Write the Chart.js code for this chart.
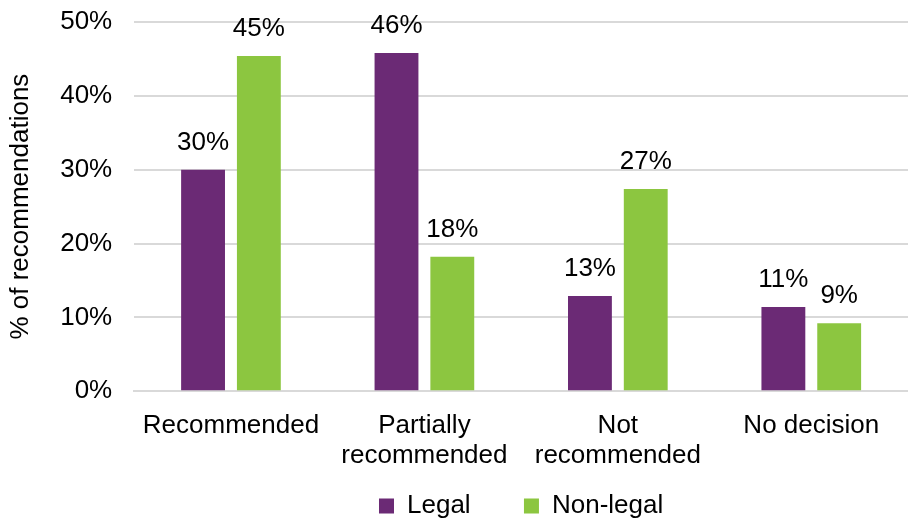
<!DOCTYPE html>
<html>
<head>
<meta charset="utf-8">
<script src="https://cdn.jsdelivr.net/npm/chart.js@4"></script>
<style>
  body { margin: 0; background: #fff; }
  #wrap { width: 908px; height: 520px; }
</style>
</head>
<body>
<div id="wrap"><canvas id="chart"></canvas></div>
<script>
const categories = [["Recommended"], ["Partially", "recommended"], ["Not", "recommended"], ["No decision"]];
const legalValues = [30.0, 45.8, 12.9, 11.4];
const nonLegalValues = [45.4, 18.2, 27.4, 9.2];
const yTicks = [0, 10, 20, 30, 40, 50];

const purple = "#6b2a75";
const green = "#8cc640";
const font = "'Liberation Sans', Arial, sans-serif";
const fontSize = 26;

// draw the value labels above each bar
const barLabels = {
  id: "barLabels",
  afterDatasetsDraw(chart) {
    const c = chart.ctx;
    c.save();
    c.font = fontSize + "px " + font;
    c.fillStyle = "#000";
    c.textAlign = "center";
    c.textBaseline = "middle";
    chart.data.datasets.forEach((ds, i) => {
      chart.getDatasetMeta(i).data.forEach((bar, j) => {
        c.fillText(Math.round(ds.data[j]) + "%", bar.x, bar.y - 27);
      });
    });
    c.restore();
  }
};

new Chart(document.getElementById("chart"), {
  type: "bar",
  data: {
    labels: categories,
    datasets: [
      { label: "Legal", data: legalValues, backgroundColor: purple },
      { label: "Non-legal", data: nonLegalValues, backgroundColor: green }
    ]
  },
  options: {
    responsive: true,
    maintainAspectRatio: false,
    animation: false,
    categoryPercentage: 0.577,
    barPercentage: 0.786,
    layout: { padding: { top: 22, right: 0, left: 5, bottom: -9 } },
    plugins: {
      legend: {
        position: "bottom",
        fullSize: false,
        labels: {
          font: { family: font, size: fontSize },
          color: "#000",
          boxWidth: 15,
          boxHeight: 15,
          padding: 10,
          // widen the gap between the two entries without a tall legend
          generateLabels(chart) {
            const items = Chart.defaults.plugins.legend.labels.generateLabels(chart);
            items[0].text = items[0].text + "      ";
            return items;
          }
        }
      },
      tooltip: { enabled: false }
    },
    scales: {
      x: {
        grid: { display: false },
        border: { color: "#d9d9d9", width: 2 },
        ticks: { font: { family: font, size: fontSize, lineHeight: 1.15 }, color: "#000", maxRotation: 0, padding: 12 }
      },
      y: {
        min: 0,
        max: 50,
        afterBuildTicks(axis) { axis.ticks = yTicks.map(v => ({ value: v })); },
        afterFit(axis) { axis.paddingTop = 0; },
        grid: { color: "#d9d9d9", lineWidth: 2, drawTicks: false },
        border: { display: false },
        ticks: {
          font: { family: font, size: fontSize },
          color: "#000",
          padding: 22,
          callback: v => v + "%"
        },
        title: {
          display: true,
          text: "% of recommendations",
          font: { family: font, size: fontSize },
          color: "#000",
          padding: { top: 0, bottom: 2 }
        }
      }
    }
  },
  plugins: [barLabels]
});
</script>
</body>
</html>
